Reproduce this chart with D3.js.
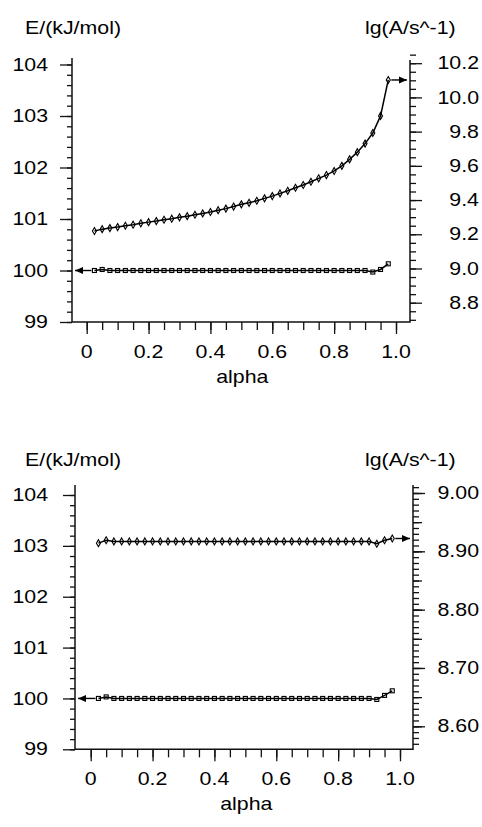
<!DOCTYPE html>
<html>
<head>
<meta charset="utf-8">
<script src="https://cdn.jsdelivr.net/npm/d3@7"></script>
<style>
  body { margin: 0; background: #fff; }
  svg { display: block; }
  text { font-family: "Liberation Sans", Arial, sans-serif; font-size: 17.5px; fill: #000; }
</style>
</head>
<body>
<svg id="chart" width="482" height="827"></svg>
<script>
// conversion degree (x values)
const alpha = [0.025, 0.05, 0.075, 0.1, 0.125, 0.15, 0.175, 0.2, 0.225, 0.25,
  0.275, 0.3, 0.325, 0.35, 0.375, 0.4, 0.425, 0.45, 0.475, 0.5,
  0.525, 0.55, 0.575, 0.6, 0.625, 0.65, 0.675, 0.7, 0.725, 0.75,
  0.775, 0.8, 0.825, 0.85, 0.875, 0.9, 0.925, 0.95, 0.975];

// top panel: lg(A) on the right axis, E on the left axis
const topLgA = [9.219, 9.230, 9.236, 9.242, 9.250, 9.256, 9.264, 9.271, 9.277, 9.285,
  9.291, 9.299, 9.306, 9.314, 9.322, 9.330, 9.341, 9.350, 9.362, 9.375,
  9.384, 9.396, 9.410, 9.423, 9.439, 9.454, 9.472, 9.488, 9.507, 9.527,
  9.546, 9.570, 9.600, 9.638, 9.680, 9.730, 9.792, 9.892, 10.102];
const topE = [100.00, 100.02, 100.00, 100.00, 100.00, 100.00, 100.00, 100.00, 100.00, 100.00,
  100.00, 100.00, 100.00, 100.00, 100.00, 100.00, 100.00, 100.00, 100.00, 100.00,
  100.00, 100.00, 100.00, 100.00, 100.00, 100.00, 100.00, 100.00, 100.00, 100.00,
  100.00, 100.00, 100.00, 100.00, 100.00, 100.00, 99.97, 100.02, 100.13];

// bottom panel
const bottomLgA = [8.914, 8.919, 8.917, 8.917, 8.917, 8.917, 8.917, 8.917, 8.917, 8.917,
  8.917, 8.917, 8.917, 8.917, 8.917, 8.917, 8.917, 8.917, 8.917, 8.917,
  8.917, 8.917, 8.917, 8.917, 8.917, 8.917, 8.917, 8.917, 8.917, 8.917,
  8.917, 8.917, 8.917, 8.917, 8.917, 8.917, 8.913, 8.919, 8.922];
const bottomE = [100.00, 100.03, 100.00, 100.00, 100.00, 100.00, 100.00, 100.00, 100.00, 100.00,
  100.00, 100.00, 100.00, 100.00, 100.00, 100.00, 100.00, 100.00, 100.00, 100.00,
  100.00, 100.00, 100.00, 100.00, 100.00, 100.00, 100.00, 100.00, 100.00, 100.00,
  100.00, 100.00, 100.00, 100.00, 100.00, 100.00, 99.98, 100.06, 100.15];

// tick labels
const xTicks = [0, 0.2, 0.4, 0.6, 0.8, 1.0];
const xTickLabels = ['0', '0.2', '0.4', '0.6', '0.8', '1.0'];
const eTicks = [99, 100, 101, 102, 103, 104];
const topLgATicks = [8.8, 9.0, 9.2, 9.4, 9.6, 9.8, 10.0, 10.2];
const bottomLgATicks = [8.60, 8.70, 8.80, 8.90, 9.00];

const svg = d3.select('#chart');
const SX = 1.22; // the scan is stretched horizontally

// arrow head
svg.append('defs').append('marker')
  .attr('id', 'arrow')
  .attr('markerUnits', 'userSpaceOnUse')
  .attr('markerWidth', 9).attr('markerHeight', 8)
  .attr('refX', 8).attr('refY', 3.5)
  .attr('orient', 'auto')
  .append('path').attr('d', 'M0,0 L8,3.5 L0,7 Z').attr('fill', '#000');

function label(g, x, y, str, anchor) {
  g.append('text')
    .attr('transform', `translate(${x},${y}) scale(${SX},1)`)
    .attr('text-anchor', anchor)
    .attr('dy', '0.35em')
    .text(str);
}

function tickAxis(g, axis, tx, ty) {
  const a = g.append('g').attr('transform', `translate(${tx},${ty})`).call(axis);
  a.select('.domain').remove();
  a.selectAll('line').attr('stroke', '#111').attr('stroke-width', 1.3);
}

function drawPanel(p) {
  const g = svg.append('g');

  const x = d3.scaleLinear().domain([0, 1]).range([p.x0, p.x1]);
  const yE = d3.scaleLinear().domain([99, 104]).range([p.bottom, p.y104]);
  const yA = d3.scaleLinear().domain(p.aDomain).range(p.aRange);

  // frame: left, right and bottom lines
  g.append('path')
    .attr('d', `M${p.left},${p.leftTop} V${p.bottom} H${p.right} V${p.rightTop}`)
    .attr('fill', 'none').attr('stroke', '#111').attr('stroke-width', 1.5);

  // left axis ticks
  tickAxis(g, d3.axisLeft(yE).tickValues(d3.range(99, 104.01, 0.2)).tickSize(5).tickFormat(''), p.left, 0);
  tickAxis(g, d3.axisLeft(yE).tickValues(eTicks).tickSize(12).tickFormat(''), p.left, 0);
  eTicks.forEach(v => label(g, 48, yE(v), String(v), 'end'));

  // right axis ticks
  tickAxis(g, d3.axisRight(yA).tickValues(p.aMinor).tickSize(6).tickFormat(''), p.right, 0);
  if (p.aMid) tickAxis(g, d3.axisRight(yA).tickValues(p.aMid).tickSize(9).tickFormat(''), p.right, 0);
  tickAxis(g, d3.axisRight(yA).tickValues(p.aTicks).tickSize(12).tickFormat(''), p.right, 0);
  p.aTicks.forEach(v => label(g, 479, yA(v), d3.format(p.aFormat)(v), 'end'));

  // x axis ticks hanging from the frame
  tickAxis(g, d3.axisBottom(x).tickValues(d3.range(0, 1.001, 0.05)).tickSize(8).tickFormat(''), 0, p.bottom);
  tickAxis(g, d3.axisBottom(x).tickValues(xTicks).tickSize(12).tickFormat(''), 0, p.bottom);
  xTicks.forEach((v, i) => label(g, x(v), p.bottom + 30, xTickLabels[i], 'middle'));
  label(g, (p.x0 + p.x1) / 2 + 1, p.bottom + 55, 'alpha', 'middle');

  // axis titles
  label(g, 25, p.titleY, 'E/(kJ/mol)', 'start');
  label(g, 365, p.titleY, 'lg(A/s^-1)', 'start');

  // series
  const aData = alpha.map((a, i) => ({ a, v: p.lgA[i] }));
  const eData = alpha.map((a, i) => ({ a, v: p.E[i] }));

  g.append('path').datum(eData)
    .attr('d', d3.line().x(d => x(d.a)).y(d => yE(d.v)))
    .attr('fill', 'none').attr('stroke', '#000').attr('stroke-width', 1.5);
  g.append('path').datum(aData)
    .attr('d', d3.line().x(d => x(d.a)).y(d => yA(d.v)))
    .attr('fill', 'none').attr('stroke', '#000').attr('stroke-width', 1.5);

  g.selectAll(null).data(eData).join('rect')
    .attr('x', d => x(d.a) - 2).attr('y', d => yE(d.v) - 2)
    .attr('width', 4).attr('height', 4)
    .attr('fill', 'none').attr('stroke', '#000').attr('stroke-width', 1.1);
  g.selectAll(null).data(aData).join('path')
    .attr('d', d3.symbol(d3.symbolDiamond, 14))
    .attr('transform', d => `translate(${x(d.a)},${yA(d.v)})`)
    .attr('fill', 'none').attr('stroke', '#000').attr('stroke-width', 1.1);

  // arrows pointing at the axis each series belongs to
  const e0 = eData[0];
  g.append('line')
    .attr('x1', x(e0.a) - 3).attr('y1', yE(e0.v))
    .attr('x2', p.left + 3).attr('y2', yE(e0.v))
    .attr('stroke', '#000').attr('stroke-width', 1.4)
    .attr('marker-end', 'url(#arrow)');
  const aN = aData[aData.length - 1];
  g.append('line')
    .attr('x1', x(aN.a) + 3).attr('y1', yA(aN.v))
    .attr('x2', p.right - 3).attr('y2', yA(aN.v))
    .attr('stroke', '#000').attr('stroke-width', 1.4)
    .attr('marker-end', 'url(#arrow)');
}

drawPanel({
  lgA: topLgA, E: topE,
  left: 72, right: 410, leftTop: 58, rightTop: 60, bottom: 322,
  x0: 86.7, x1: 396, y104: 64.5,
  aDomain: [8.8, 10.2], aRange: [302.7, 63.2],
  aTicks: topLgATicks, aMinor: d3.range(8.7, 10.26, 0.05), aMid: null, aFormat: '.1f',
  titleY: 28
});

drawPanel({
  lgA: bottomLgA, E: bottomE,
  left: 75, right: 413, leftTop: 485, rightTop: 485, bottom: 749.3,
  x0: 90.7, x1: 400, y104: 495,
  aDomain: [8.6, 9.0], aRange: [726.3, 493],
  aTicks: bottomLgATicks, aMinor: d3.range(8.57, 9.016, 0.01), aMid: d3.range(8.6, 9.016, 0.05), aFormat: '.2f',
  titleY: 460
});
</script>
</body>
</html>
